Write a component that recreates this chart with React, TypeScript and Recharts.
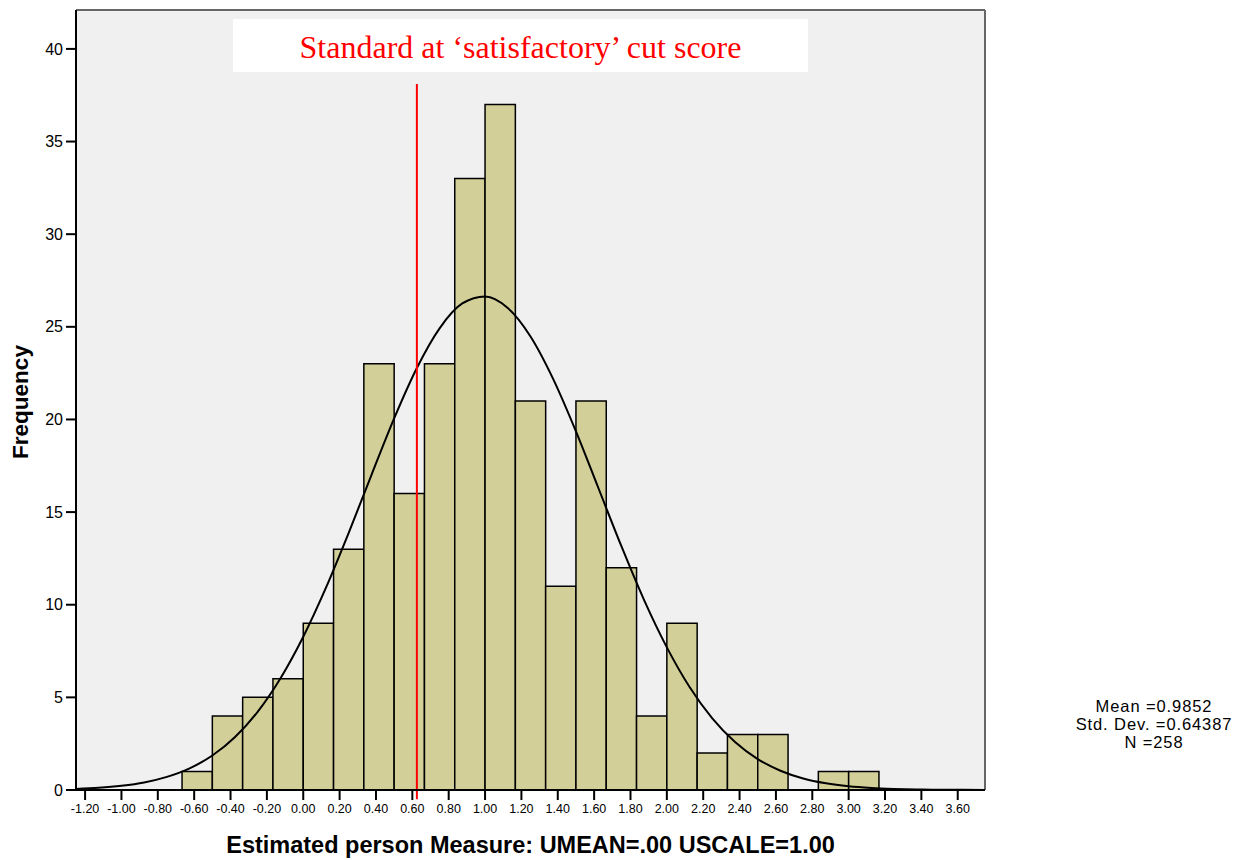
import {
  ComposedChart,
  Line,
  XAxis,
  YAxis,
  CartesianGrid,
  ReferenceArea,
  ReferenceLine,
  Label,
} from 'recharts';

// histogram bins (left edge) and counts, bin width 1/6
const binStarts = [
  -0.6667, -0.5, -0.3333, -0.1667, 0, 0.1667, 0.3333, 0.5, 0.6667, 0.8333, 1, 1.1667,
  1.3333, 1.5, 1.6667, 1.8333, 2, 2.1667, 2.3333, 2.5, 2.6667, 2.8333, 3,
];
const binWidth = 0.1667;
const counts = [1, 4, 5, 6, 9, 13, 23, 16, 23, 33, 37, 21, 11, 21, 12, 4, 9, 2, 3, 3, 0, 1, 1];

// fitted normal curve
const curveX = [
  -1.25, -1.125, -1, -0.875, -0.75, -0.625, -0.5, -0.375, -0.25, -0.125, 0, 0.125, 0.25, 0.375,
  0.5, 0.625, 0.75, 0.875, 1, 1.125, 1.25, 1.375, 1.5, 1.625, 1.75, 1.875, 2, 2.125, 2.25,
  2.375, 2.5, 2.625, 2.75, 2.875, 3, 3.125, 3.25, 3.375, 3.5, 3.625, 3.75,
];
const curveY = [
  0.06, 0.12, 0.23, 0.41, 0.71, 1.17, 1.86, 2.86, 4.23, 6.03, 8.27, 10.92, 13.88, 17.0,
  20.06, 22.78, 24.92, 26.26, 26.64, 26.02, 24.48, 22.18, 19.36, 16.26, 13.16, 10.25, 7.7,
  5.56, 3.87, 2.59, 1.67, 1.04, 0.62, 0.36, 0.2, 0.11, 0.06, 0.03, 0.01, 0.01, 0.0,
];

const xTicks = [
  -1.2, -1.0, -0.8, -0.6, -0.4, -0.2, 0, 0.2, 0.4, 0.6, 0.8, 1.0, 1.2, 1.4, 1.6, 1.8, 2.0,
  2.2, 2.4, 2.6, 2.8, 3.0, 3.2, 3.4, 3.6,
];
const yTicks = [0, 5, 10, 15, 20, 25, 30, 35, 40];

const cutScore = 0.625;
const cutLineTop = 38.1;
const stats = ['Mean =0.9852', 'Std. Dev. =0.64387', 'N =258'];

const curveData = curveX.map((x, i) => ({ x, y: curveY[i] }));

export default function App() {
  return (
    <div
      style={{
        position: 'absolute',
        left: 0,
        top: 0,
        width: 1241,
        height: 860,
        background: '#fff',
        fontFamily: '"Liberation Sans", Arial, sans-serif',
      }}
    >
      <ComposedChart
        width={1241}
        height={860}
        data={curveData}
        margin={{ top: 10, right: 256, bottom: 0, left: 0 }}
      >
        <CartesianGrid fill="#F0F0F0" horizontal={false} vertical={false} />
        <XAxis
          dataKey="x"
          type="number"
          domain={[-1.25, 3.75]}
          ticks={xTicks}
          allowDataOverflow
          height={70}
          tickFormatter={(v: number) => v.toFixed(2)}
          tick={{ fill: '#000', fontSize: 12.5 }}
          tickSize={10}
          tickMargin={4}
          axisLine={{ stroke: '#000', strokeWidth: 2 }}
          tickLine={{ stroke: '#000', strokeWidth: 2 }}
        >
          <Label
            value="Estimated person Measure: UMEAN=.00 USCALE=1.00"
            position="insideBottom"
            offset={7}
            style={{ fontSize: 23.5, fontWeight: 'bold', fill: '#000' }}
          />
        </XAxis>
        <YAxis
          type="number"
          domain={[0, 42.1]}
          ticks={yTicks}
          allowDataOverflow
          width={76}
          tick={{ fill: '#000', fontSize: 16 }}
          tickSize={10}
          tickMargin={3}
          axisLine={{ stroke: '#000', strokeWidth: 2 }}
          tickLine={{ stroke: '#000', strokeWidth: 2 }}
        >
          <Label
            content={() => (
              <text
                x={28}
                y={402}
                transform="rotate(-90 28 402)"
                textAnchor="middle"
                style={{ fontSize: 22.5, fontWeight: 'bold', fill: '#000' }}
              >
                Frequency
              </text>
            )}
          />
        </YAxis>
        {counts.map((c, i) =>
          c > 0 ? (
            <ReferenceArea
              key={i}
              x1={binStarts[i]}
              x2={binStarts[i] + binWidth}
              y1={0}
              y2={c}
              fill="#D3CF99"
              fillOpacity={1}
              stroke="#000"
              strokeWidth={1.5}
            />
          ) : null
        )}
        <ReferenceLine y={42.1} stroke="#666" strokeWidth={2} />
        <ReferenceLine x={3.75} stroke="#666" strokeWidth={2} />
        <Line
          type="monotone"
          dataKey="y"
          stroke="#000"
          strokeWidth={2}
          dot={false}
          activeDot={false}
          isAnimationActive={false}
        />
        <ReferenceLine
          segment={[
            { x: cutScore, y: -0.5 },
            { x: cutScore, y: cutLineTop },
          ]}
          ifOverflow="visible"
          stroke="#FF0000"
          strokeWidth={2}
        />
      </ComposedChart>
      <div
        style={{
          position: 'absolute',
          left: 233,
          top: 19,
          width: 575,
          height: 53,
          background: '#fff',
          color: '#FF0000',
          fontFamily: '"Liberation Serif", "Times New Roman", serif',
          fontSize: 32,
          lineHeight: '56px',
          textAlign: 'center',
          overflow: 'hidden',
        }}
      >
        Standard at ‘satisfactory’ cut score
      </div>
      <div
        style={{
          position: 'absolute',
          left: 1054,
          top: 697,
          width: 200,
          textAlign: 'center',
          fontSize: 16.5,
          letterSpacing: 0.9,
          lineHeight: '18px',
          color: '#000',
        }}
      >
        {stats.map((s) => (
          <div key={s}>{s}</div>
        ))}
      </div>
    </div>
  );
}
